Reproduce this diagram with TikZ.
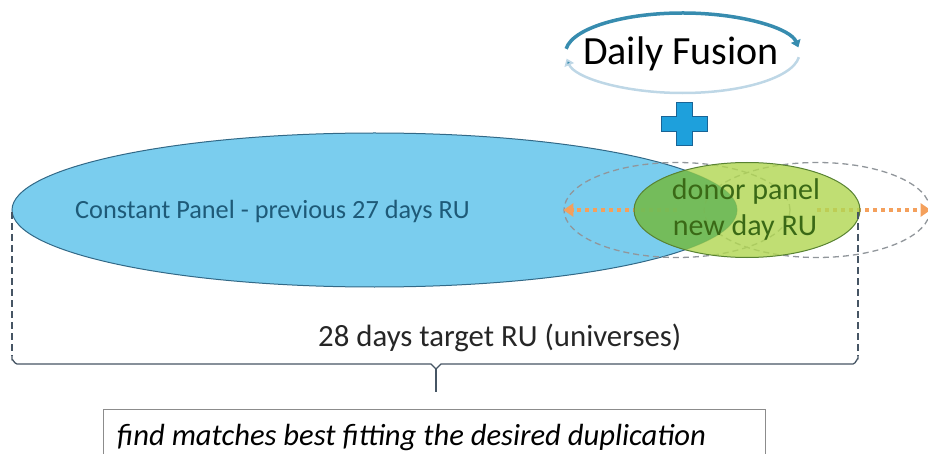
\documentclass[tikz,border=0pt]{standalone}
\usepackage{fontspec}
\setmainfont{Carlito}
\usetikzlibrary{arrows.meta,shapes.geometric}
\definecolor{bluefill}{RGB}{122,205,238}
\definecolor{blueline}{RGB}{50,105,135}
\definecolor{bluetext}{RGB}{30,90,120}
\definecolor{greenfill}{RGB}{178,215,84}
\definecolor{greenline}{RGB}{88,130,50}
\definecolor{overlapgreen}{RGB}{100,180,85}
\definecolor{greentext}{RGB}{58,105,22}
\definecolor{ghostgray}{RGB}{145,150,155}
\definecolor{orangedot}{RGB}{244,160,92}
\definecolor{bracketc}{RGB}{70,85,100}
\definecolor{boxline}{RGB}{140,140,140}
\definecolor{crossblue}{RGB}{30,160,220}
\definecolor{crossline}{RGB}{25,100,150}
\definecolor{cycletop}{RGB}{55,140,175}
\definecolor{cyclebot}{RGB}{190,215,230}
\tikzset{
  blob/.style={ellipse, inner sep=0pt},
  ghost/.style={draw=ghostgray, dashed, dash pattern=on 6pt off 4pt, line width=1.3pt},
  orangearrow/.style={draw=orangedot, line width=4pt, dash pattern=on 4pt off 4pt,
     -{Triangle[width=13pt,length=10pt]}},
  bracketline/.style={draw=bracketc, line width=1.3pt},
  lbl/.style={inner sep=0pt, anchor=base west},
}
\begin{document}
\begin{tikzpicture}[x=1pt,y=-1pt]
\useasboundingbox (0,0) rectangle (928,454);
% constant panel ellipse
\node[blob, fill=bluefill, draw=blueline, line width=1pt, minimum width=725pt, minimum height=154pt] (const) at (374.5,210) {};
% ghost ellipses
\node[blob, ghost, minimum width=226pt, minimum height=95pt] (ghostL) at (677,210) {};
\node[blob, ghost, minimum width=226pt, minimum height=95pt] (ghostR) at (817,210) {};
% orange arrows
\draw[orangearrow] (ghostL.center) -- (ghostL.west);
\draw[orangearrow] (ghostR.center) -- (ghostR.east);
% donor ellipse
\node[blob, fill=greenfill, fill opacity=0.82, minimum width=226pt, minimum height=95pt] (donorE) at (747,210) {};
\begin{scope}
  \clip (374.5,210) ellipse [x radius=362.5, y radius=77];
  \fill[overlapgreen, opacity=0.75] (747,210) ellipse [x radius=113, y radius=47.5];
\end{scope}
\node[blob, draw=greenline, line width=1pt, minimum width=226pt, minimum height=95pt] (donorO) at (747,210) {};
% texts
\node[lbl, font=\fontsize{26.3}{30}\selectfont, text=bluetext] (ctext) at (75,219) {Constant Panel - previous 27 days RU};
\node[inner sep=0pt, anchor=base, font=\fontsize{30}{34}\selectfont, text=greentext] (donor) at (746,200) {donor panel};
\node[inner sep=0pt, anchor=base, font=\fontsize{30}{34}\selectfont, text=greentext] (newday) at (745,236) {new day RU};
% cross
\filldraw[fill=crossblue, draw=crossline, line width=1pt]
  (676,103) -- (692,103) -- (692,117) -- (707,117) -- (707,132) -- (692,132) -- (692,146)
  -- (676,146) -- (676,132) -- (661,132) -- (661,117) -- (676,117) -- cycle;
% daily fusion
\node[lbl, font=\fontsize{40}{46}\selectfont, text=black] (fusion) at (583,65) {Daily Fusion};
\coordinate (fc) at (682.5,53);
\draw[cycletop, line width=3.5pt, -{Triangle[width=10pt,length=7pt]}]
  (fc) ++(186:117 and 40) arc [start angle=186, end angle=352, x radius=117, y radius=40];
\draw[cyclebot, line width=2.5pt, -{Triangle[width=10pt,length=7pt,fill=cycletop]}]
  (fc) ++(6:117 and 40) arc [start angle=6, end angle=172, x radius=117, y radius=40];
% bracket
\coordinate (bl) at (12,212);
\coordinate (br) at (858,212);
\coordinate (tip) at (436,392);
\draw[bracketline, dash pattern=on 7pt off 4pt] (bl) -- (12,356);
\draw[bracketline, dash pattern=on 7pt off 4pt] (br) -- (858,356);
\draw[bracketline, line join=round] (12,356) -- (12,360) to[out=90,in=180] (17,364) -- (431,364) -- (436,369) -- (441,364) -- (853,364) to[out=0,in=90] (858,359) -- (858,356);
\draw[bracketline] (436,369) -- (tip);
\node[lbl, font=\fontsize{30.8}{34}\selectfont, text=black!85] (target) at (318,346) {28 days target RU (universes)};
% bottom box
\node[draw=boxline, line width=1.3pt, anchor=north west, minimum width=662pt, minimum height=60pt, inner sep=0pt] (box) at (103,409) {};
\node[lbl, font=\fontsize{30.6}{34}\selectfont\itshape, text=black] (find) at (117,445) {find matches best fitting the desired duplication};
\end{tikzpicture}
\end{document}
